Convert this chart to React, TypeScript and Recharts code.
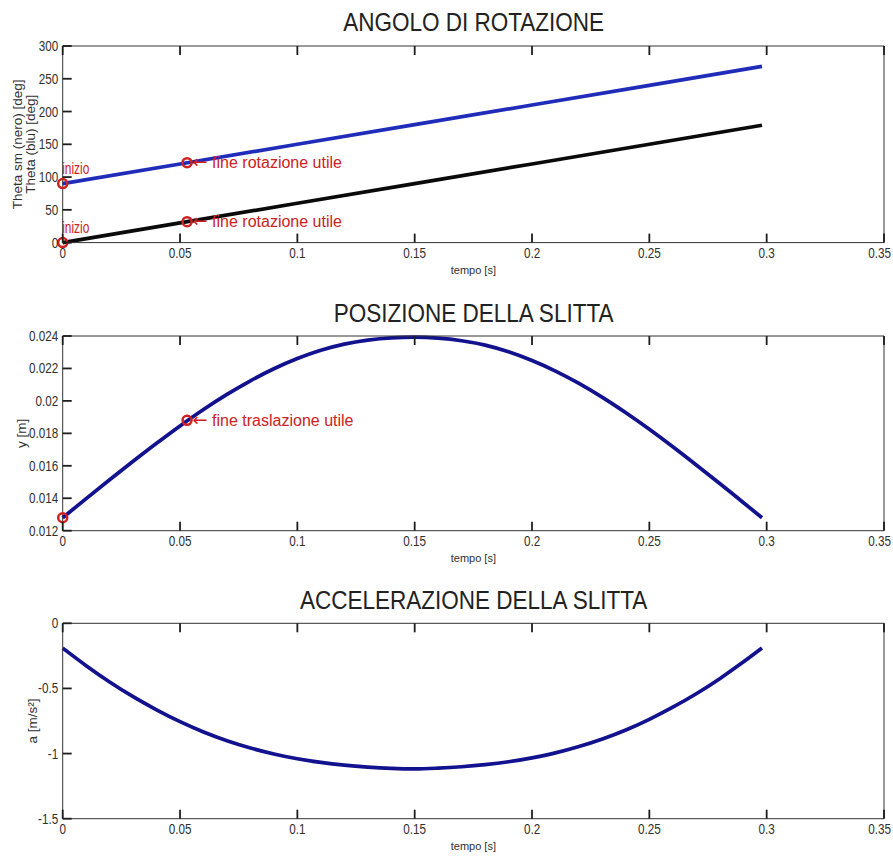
import React from 'react';
import { LineChart, Line, XAxis, YAxis, ReferenceDot, Label } from 'recharts';

// ---------- DATA ----------
const timeRot = [0, 0.05, 0.1, 0.15, 0.2, 0.25, 0.298];
const thetaBlu = [90, 120, 150, 180, 210, 240, 269];
const thetaNero = [0, 30, 60, 90, 120, 150, 179];

const timeSlitta = [
  0, 0.01, 0.02, 0.03, 0.04, 0.05, 0.06, 0.07, 0.08, 0.09, 0.1, 0.11, 0.12, 0.13, 0.14, 0.15,
  0.16, 0.17, 0.18, 0.19, 0.2, 0.21, 0.22, 0.23, 0.24, 0.25, 0.26, 0.27, 0.28, 0.29, 0.298,
];
const posY = [
  0.0128, 0.01398, 0.01514, 0.01628, 0.01739, 0.01846, 0.01947, 0.0204, 0.02124, 0.02198, 0.02261,
  0.02312, 0.0235, 0.02375, 0.02389, 0.02393, 0.02387, 0.02371, 0.02344, 0.02303, 0.02249, 0.02184,
  0.02108, 0.02022, 0.01927, 0.01825, 0.01717, 0.01605, 0.01491, 0.01374, 0.0128,
];
const accA = [
  -0.19, -0.325, -0.45, -0.563, -0.664, -0.755, -0.834, -0.901, -0.957, -1.003, -1.04, -1.068,
  -1.089, -1.104, -1.114, -1.118, -1.112, -1.101, -1.085, -1.063, -1.033, -0.995, -0.946, -0.888,
  -0.819, -0.737, -0.644, -0.541, -0.425, -0.298, -0.19,
];

const xTicks = [0, 0.05, 0.1, 0.15, 0.2, 0.25, 0.3, 0.35];
const rotTicks = [0, 50, 100, 150, 200, 250, 300];
const posTicks = [0.012, 0.014, 0.016, 0.018, 0.02, 0.022, 0.024];
const accTicks = [-1.5, -1, -0.5, 0];

const rotMarkers = [
  { t: 0, v: 90, text: 'inizio' },
  { t: 0.053, v: 122, text: '\u2190 fine rotazione utile' },
  { t: 0, v: 0, text: 'inizio' },
  { t: 0.053, v: 32, text: '\u2190 fine rotazione utile' },
];
const posMarkers = [
  { t: 0, v: 0.0128, text: '' },
  { t: 0.053, v: 0.0188, text: '\u2190 fine traslazione utile' },
];

const titles = ['ANGOLO DI ROTAZIONE', 'POSIZIONE DELLA SLITTA', 'ACCELERAZIONE DELLA SLITTA'];
const xLabel = 'tempo [s]';

// ---------- STYLE ----------
const FONT = "'Liberation Sans', Arial, Helvetica, sans-serif";
const AXIS = '#333333';
const TICK_COLOR = '#1e1e1e';
const TXT = '#303030';
const RED = '#cc2222';
const TICK = 9;
const TICK_W = 1.8;
const W = 893;
const PLOT_LEFT = 62.7;
const PLOT_RIGHT = 884;
const YW = 40;
const LAST_X = xTicks[xTicks.length - 1];
const TICK_FS = 15;
const TICK_SX = 0.78;

function makeTable(t: number[], cols: Record<string, number[]>) {
  return t.map((tv, i) => {
    const row: any = { t: tv };
    for (const k in cols) row[k] = cols[k][i];
    return row;
  });
}

// Inward tick marks drawn by the tick renderers (tickSize 0 => coordinate is on the axis line).
const XTickBottom = (p: any) => {
  const last = p.payload.value === LAST_X;
  return (
    <g>
      <path d={`M${p.x},${p.y}L${p.x},${p.y - TICK}`} stroke={TICK_COLOR} strokeWidth={TICK_W} fill="none" />
      <text
        transform={`translate(${last ? p.x + 7 : p.x},${p.y + 15.5}) scale(${TICK_SX},1)`}
        textAnchor={last ? 'end' : 'middle'}
        fontSize={TICK_FS}
        fill={TXT}
        fontFamily={FONT}
      >
        {String(p.payload.value)}
      </text>
    </g>
  );
};
const XTickTop = (p: any) => (
  <path d={`M${p.x},${p.y}L${p.x},${p.y + TICK}`} stroke={TICK_COLOR} strokeWidth={TICK_W} fill="none" />
);
const YTickLeft = (p: any) => (
  <g>
    <path d={`M${p.x},${p.y}L${p.x + TICK},${p.y}`} stroke={TICK_COLOR} strokeWidth={TICK_W} fill="none" />
    <text
      transform={`translate(${p.x - 4.5},${p.y + 5}) scale(${TICK_SX},1)`}
      textAnchor="end"
      fontSize={TICK_FS}
      fill={TXT}
      fontFamily={FONT}
    >
      {String(p.payload.value)}
    </text>
  </g>
);
const YTickRight = (p: any) => (
  <path d={`M${p.x},${p.y}L${p.x - TICK},${p.y}`} stroke={TICK_COLOR} strokeWidth={TICK_W} fill="none" />
);

const annotation = (text: string) => (props: any) => {
  if (!text) return null;
  const vb = props.viewBox || {};
  const cx = vb.x + vb.width / 2;
  const cy = vb.y + vb.height / 2;
  if (text.startsWith('\u2190')) {
    return (
      <text x={cx + 5.5} y={cy + 5.5} fontSize={16} fill={RED} fontFamily={FONT}>
        <tspan fontFamily="'DejaVu Sans', sans-serif" fontSize={18}>
          {text.slice(0, 1)}
        </tspan>
        {text.slice(1)}
      </text>
    );
  }
  return (
    <text
      transform={`translate(${cx - 0.5},${cy - 9.5}) scale(0.7,1)`}
      fontSize={17}
      fill={RED}
      fontFamily={FONT}
    >
      {text}
    </text>
  );
};

const yLabel = (lines: string[], offsets: number[], fs: number) => (props: any) => {
  const vb = props.viewBox || {};
  const axisX = vb.x + vb.width;
  const cy = vb.y + vb.height / 2;
  return (
    <g>
      {lines.map((ln, i) => (
        <text
          key={i}
          transform={`translate(${axisX + offsets[i]},${cy}) rotate(-90)`}
          textAnchor="middle"
          dominantBaseline="central"
          fontSize={fs}
          fill={TXT}
          fontFamily={FONT}
        >
          {ln}
        </text>
      ))}
    </g>
  );
};

const xLabelRenderer = (props: any) => {
  const vb = props.viewBox || {};
  return (
    <text
      x={vb.x + vb.width / 2}
      y={vb.y + 31}
      textAnchor="middle"
      fontSize={11}
      fill={TXT}
      fontFamily={FONT}
    >
      {xLabel}
    </text>
  );
};

type SeriesDef = { key: string; color: string; curve: 'linear' | 'monotone' };
type MarkerDef = { t: number; v: number; text: string };

function Panel(props: {
  top: number;
  height: number;
  plotTop: number;
  plotBottom: number;
  data: any[];
  series: SeriesDef[];
  yDomain: [number, number];
  yTicks: number[];
  markers: MarkerDef[];
  ylabLines: string[];
  ylabOffsets: number[];
}) {
  const { top, height, plotTop, plotBottom, data, series, yDomain, yTicks, markers } = props;
  const relTop = plotTop - top;
  const relBottom = plotBottom - top;
  const margin = {
    top: relTop - 1,
    bottom: height - relBottom - 30,
    left: PLOT_LEFT - YW,
    right: W - PLOT_RIGHT - 1,
  };
  return (
    <div style={{ position: 'absolute', left: 0, top, width: W, height }}>
      <LineChart width={W} height={height} data={data} margin={margin}>
        {series.map((s) => (
          <Line
            key={s.key}
            xAxisId={0}
            yAxisId={0}
            dataKey={s.key}
            type={s.curve}
            stroke={s.color}
            strokeWidth={3.7}
            dot={false}
            activeDot={false}
            isAnimationActive={false}
          />
        ))}
        <XAxis
          xAxisId={0}
          dataKey="t"
          type="number"
          domain={[0, 0.35]}
          ticks={xTicks}
          interval={0}
          height={30}
          tickSize={0}
          tickMargin={0}
          tickLine={false}
          tick={XTickBottom}
          stroke={AXIS}
        >
          <Label content={xLabelRenderer} />
        </XAxis>
        <XAxis
          xAxisId="top"
          orientation="top"
          dataKey="t"
          type="number"
          domain={[0, 0.35]}
          ticks={xTicks}
          interval={0}
          height={1}
          tickSize={0}
          tickMargin={0}
          tickLine={false}
          tick={XTickTop}
          stroke={AXIS}
        />
        <YAxis
          yAxisId={0}
          type="number"
          domain={yDomain}
          ticks={yTicks}
          interval={0}
          width={YW}
          tickSize={0}
          tickMargin={0}
          tickLine={false}
          tick={YTickLeft}
          stroke={AXIS}
        >
          <Label content={yLabel(props.ylabLines, props.ylabOffsets, 13.5)} />
        </YAxis>
        <YAxis
          yAxisId="r"
          orientation="right"
          type="number"
          domain={yDomain}
          ticks={yTicks}
          interval={0}
          width={1}
          tickSize={0}
          tickMargin={0}
          tickLine={false}
          tick={YTickRight}
          stroke={AXIS}
        />
        {markers.map((m, i) => (
          <ReferenceDot
            key={i}
            xAxisId={0}
            yAxisId={0}
            x={m.t}
            y={m.v}
            r={4.5}
            fill="none"
            stroke={RED}
            strokeWidth={2.5}
            ifOverflow="visible"
            label={annotation(m.text)}
          />
        ))}
      </LineChart>
    </div>
  );
}

const titleStyle = (top: number): React.CSSProperties => ({
  position: 'absolute',
  left: PLOT_LEFT,
  width: PLOT_RIGHT - PLOT_LEFT,
  top,
  textAlign: 'center',
  fontFamily: FONT,
  fontSize: 25,
  lineHeight: '25px',
  color: '#222',
  transform: 'scaleX(0.9)',
  transformOrigin: 'center',
  whiteSpace: 'nowrap',
});

export default function App() {
  const rotData = makeTable(timeRot, { blu: thetaBlu, nero: thetaNero });
  const posData = makeTable(timeSlitta, { y: posY });
  const accData = makeTable(timeSlitta, { a: accA });
  return (
    <div style={{ position: 'absolute', left: 0, top: 0, width: W, height: 861, background: '#fff' }}>
      <div style={titleStyle(9.8)}>{titles[0]}</div>
      <div style={titleStyle(300.5)}>{titles[1]}</div>
      <div style={titleStyle(587.8)}>{titles[2]}</div>
      <Panel
        top={0}
        height={290}
        plotTop={46}
        plotBottom={242.6}
        data={rotData}
        series={[
          { key: 'nero', color: '#0a0a0a', curve: 'linear' },
          { key: 'blu', color: '#1f2cba', curve: 'linear' },
        ]}
        yDomain={[0, 300]}
        yTicks={rotTicks}
        markers={rotMarkers}
        ylabLines={['Theta sm (nero) [deg]', 'Theta (blu) [deg]']}
        ylabOffsets={[-45.7, -32.7]}
      />
      <Panel
        top={290}
        height={285}
        plotTop={336}
        plotBottom={530.7}
        data={posData}
        series={[{ key: 'y', color: '#12128f', curve: 'monotone' }]}
        yDomain={[0.012, 0.024]}
        yTicks={posTicks}
        markers={posMarkers}
        ylabLines={['y [m]']}
        ylabOffsets={[-41.2]}
      />
      <Panel
        top={575}
        height={286}
        plotTop={623.3}
        plotBottom={818.7}
        data={accData}
        series={[{ key: 'a', color: '#12128f', curve: 'monotone' }]}
        yDomain={[-1.5, 0]}
        yTicks={accTicks}
        markers={[]}
        ylabLines={['a [m/s\u00B2]']}
        ylabOffsets={[-30.7]}
      />
    </div>
  );
}
